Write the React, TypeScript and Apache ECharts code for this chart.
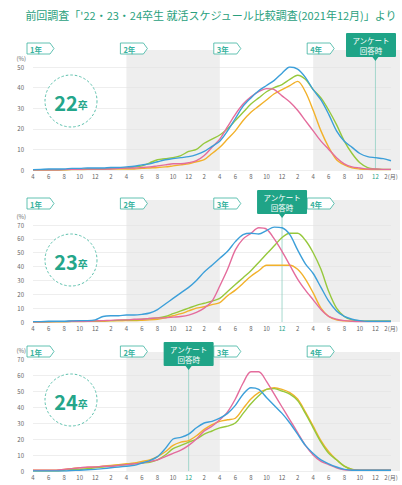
import { useEffect, useRef } from "react";
import * as echarts from "echarts";

// ---- tick labels (Apr of 1st year .. Feb after 4th year, monthly) ----
const monthTicks = [
  "4","5","6","7","8","9","10","11","12","1","2","3",
  "4","5","6","7","8","9","10","11","12","1","2","3",
  "4","5","6","7","8","9","10","11","12","1","2","3",
  "4","5","6","7","8","9","10","11","12","1","2",
];
const yearTags = ["1年", "2年", "3年", "4年"];
const yearStartIdx = [0, 12, 24, 36];
const shadedYears = [[12, 24], [36, 46]];
const cohorts = ["22", "23", "24"];
const yMaxes = [50, 70, 70];
const surveyIdx = [44, 32, 20];
const surveyText = "アンケート\n回答時";
const titleText = "前回調査「'22・23・24卒生 就活スケジュール比較調査(2021年12月)」より";

// ---- series values (%) ----
const blue22 = [0.2,0.3,0.5,0.5,0.5,0.8,0.8,1,1,1,1.2,1.2,1.5,1.8,2.5,3,4,5,5.5,6,6.5,7.5,9,11.5,14,19,25,31,35,38.5,41,43.5,47,50,49,45,39,34,27,19,14,11,8,6.5,6,5.5,4.5];
const pink22 = [0,0,0,0,0.2,0.3,0.3,0.5,0.5,0.5,0.5,0.8,1,1,1.2,1.5,2,2.5,3,3,3.5,4.5,7,11,15,21,27,32,35.5,38,39.5,39,36,33,29,24,19,14,10,6,3,1.5,1,0.5,0.5,0.3,0.3];
const green22 = [0,0,0,0,0.2,0.3,0.3,0.5,0.5,0.5,0.8,1,1,1.5,2,3.5,5,5.5,6,7,9,10,13,15,17,20,24,28,32,35,38,40,41.5,44,46,44,39,35,29,22,14,8,3.5,1.2,0.5,0.3,0.3];
const gold22 = [0,0,0,0,0,0.2,0.2,0.3,0.3,0.3,0.5,0.5,0.5,0.5,0.8,1,1.2,1.5,2,2.5,3,4,5,8,11,15,19,24,28,31,34,37,39,41,43,38,29,19,11,5,2.5,1,0.5,0.3,0.2,0.2,0.2];

const blue23 = [0.3,0.3,0.5,0.5,0.5,0.8,1,1,1.5,4,4.5,4.5,5,5,5.5,6.5,9,13,17,21,25,30,36,41,46,51,58,63,64,63.5,66,68.5,68,63,52,42,35,25,15,8,4,2,1,0.5,0.5,0.5,0.5];
const pink23 = [0,0,0.2,0.3,0.3,0.5,0.5,0.5,0.8,1,1.2,1.5,1.5,2,2,2.5,3,3,3.5,4,5,7,10,15,26,38,52,60,64,68,67,60,51,41,31,23,16,9,4,2,1,0.5,0.3,0.3,0.3,0.3,0.3];
const green23 = [0,0,0.2,0.3,0.3,0.5,0.5,0.5,0.8,1,1,1.2,1.5,1.5,2,2.5,3,4,6,8,10,12,13.5,15,17,22,27,32,37,43,49,55,61,64,64,59,50,38,22,10,4,1.5,0.8,0.5,0.5,0.5,0.5];
const gold23 = [0,0,0,0.2,0.2,0.3,0.3,0.5,0.5,0.5,0.8,0.8,1,1,1.2,1.5,2,3,4.5,6,8,10,11,12.5,14,19,23,28,33,37,41,41,41,41,38,31,21,10,4,1.5,0.8,0.5,0.5,0.5,0.5,0.5,0.5];

const blue24 = [0,0,0,0,0,0.3,0.5,0.8,1,1.5,2,2.5,3,3.5,5,6.5,9,14,20,21,23,27,30,31,33,36,41,48,52,51,46,41,36,30,23,16,11,7,4.5,2.5,1,0.5,0.5,0.5,0.5,0.5,0.5];
const pink24 = [0.5,0.5,0.5,0.5,1,1.5,2,2.5,2.5,3,3,3.5,4,4.5,5,6,7,9,11,13,16,20,25,28,32,37,45,55,62,62,56,48,40,32,24,16,10,6,4,2,0.8,0.5,0.5,0.5,0.5,0.5,0.5];
const green24 = [0,0,0,0,0.5,1,1,1.5,2,2.5,3,3.5,4,4.5,5,5.5,7,10,14,16,18,20,23,25,27,28,30,36,42,47,51,51.5,50,48,44,36,27,18,11,7,3,1,0.5,0.5,0.5,0.5,0.5];
const gold24 = [0.5,0.5,0.5,0.5,1,1.5,2,2,2.5,3,3.5,4,4.5,5,6,7,9,12,16,18,19,22,26,29,31,32,33,39,45,49,51,52,51,49,45,37,28,19,12,7,3,1,0.5,0.5,0.5,0.5,0.5];

const panelSeries = [
  [gold22, green22, pink22, blue22],
  [gold23, green23, pink23, blue23],
  [gold24, green24, pink24, blue24],
];
const seriesColors = ["#f2b12a", "#96c83c", "#e46c9c", "#3c9fd9"];

// ---- layout ----
const LAYOUT = [
  { top: 67, height: 103, tagTop: 43, boxTop: 33, shadeTop: 50, circleY: 101 },
  { top: 225, height: 97, tagTop: 198, boxTop: 190, shadeTop: 200, circleY: 260 },
  { top: 359, height: 112, tagTop: 346, boxTop: 342, shadeTop: 352, circleY: 400 },
];
const TEAL = "#1fa487";
const TAG = "#3ab3a0";

export default function App() {
  const ref = useRef<HTMLDivElement>(null);
  useEffect(() => {
    const chart = echarts.init(ref.current!, null, { renderer: "svg" });
    const cats = monthTicks.map((_, i) => String(i));
    const font = "'Noto Sans CJK JP', 'Noto Sans', sans-serif";
    const option: any = {
      animation: false,
      backgroundColor: "#ffffff",
      textStyle: { fontFamily: font },
      grid: LAYOUT.map((l) => ({ left: 33, right: 11, top: l.top, height: l.height })),
      xAxis: LAYOUT.map((_, k) => ({
        type: "category",
        gridIndex: k,
        data: cats,
        boundaryGap: false,
        axisLine: { show: false },
        axisTick: { show: false },
        splitLine: { show: false },
        axisLabel: {
          interval: 1,
          fontSize: 6,
          lineHeight: 7,
          margin: 3,
          fontFamily: font,
          color: (v: any) => (Number(v) === surveyIdx[k] ? TEAL : "#666"),
          formatter: (v: any) => {
            const i = Number(v);
            return monthTicks[i] + (i === monthTicks.length - 1 ? "(月)" : "");
          },
        },
      })),
      yAxis: LAYOUT.map((_, k) => ({
        type: "value",
        gridIndex: k,
        min: 0,
        max: yMaxes[k],
        interval: 10,
        name: "(%)",
        nameGap: 6,
        nameTextStyle: { fontSize: 6, color: "#666", align: "right", padding: [0, 7, 0, 0] },
        axisLine: { show: false },
        axisTick: { show: false },
        axisLabel: { fontSize: 6, color: "#666", margin: 9 },
        splitLine: { lineStyle: { color: "#e2e2e2", width: 0.6 } },
      })),
      series: panelSeries.flatMap((list, k) =>
        list.map((data, j) => ({
          type: "line",
          xAxisIndex: k,
          yAxisIndex: k,
          data,
          smooth: 0.3,
          symbol: "none",
          lineStyle: { color: seriesColors[j], width: 1.4 },
          z: 3 + j,
        }))
      ),
    };
    chart.setOption(option);

    const els: any[] = [];
    els.push({
      type: "text",
      z: 20,
      style: {
        text: titleText,
        x: 211,
        y: 15,
        align: "center",
        verticalAlign: "middle",
        fill: "#2a9f7d",
        fontSize: 11,
        fontFamily: font,
      },
    });
    LAYOUT.forEach((l, k) => {
      const px = (i: number, v: number) =>
        chart.convertToPixel({ xAxisIndex: k, yAxisIndex: k }, [i, v]) as number[];
      const yBase = px(0, 0)[1];
      // shaded years
      shadedYears.forEach(([a, b]) => {
        const xa = px(a, 0)[0];
        const xb = b === monthTicks.length - 1 ? 400 : px(b, 0)[0];
        els.push({
          type: "rect",
          z: -1,
          silent: true,
          shape: { x: xa, y: l.shadeTop, width: xb - xa, height: yBase - l.shadeTop },
          style: { fill: "#eeeeee" },
        });
      });
      // year tags
      yearStartIdx.forEach((idx, t) => {
        const x = px(idx, 0)[0] - 6;
        const y = l.tagTop;
        const w = 27, h = 11;
        els.push({
          type: "polygon",
          z: 10,
          shape: { points: [[x, y], [x + w - 4, y], [x + w, y + h / 2], [x + w - 4, y + h], [x, y + h]] },
          style: { fill: "#ffffff", stroke: TAG, lineWidth: 0.8 },
        });
        els.push({
          type: "text",
          z: 11,
          style: {
            text: yearTags[t],
            x: x + 3,
            y: y + h / 2 + 0.5,
            verticalAlign: "middle",
            fill: TAG,
            fontSize: 7.5,
            fontWeight: "bold",
            fontFamily: font,
          },
        });
      });
      // survey marker
      const lx = px(surveyIdx[k], 0)[0];
      const bw = 50, bh = 24;
      const bx = Math.min(lx - bw / 2, 402 - 6 - bw);
      const by = l.boxTop;
      els.push({
        type: "line",
        z: 1,
        shape: { x1: lx, y1: by + bh, x2: lx, y2: yBase },
        style: { stroke: "#8fcfc2", lineWidth: 0.8 },
      });
      els.push({
        type: "rect",
        z: 12,
        shape: { x: bx, y: by, width: bw, height: bh, r: 1 },
        style: { fill: TEAL },
      });
      els.push({
        type: "polygon",
        z: 12,
        shape: { points: [[lx - 3, by + bh], [lx + 3, by + bh], [lx, by + bh + 4]] },
        style: { fill: TEAL },
      });
      els.push({
        type: "text",
        z: 13,
        style: {
          text: surveyText,
          x: bx + bw / 2,
          y: by + bh / 2,
          align: "center",
          verticalAlign: "middle",
          fill: "#ffffff",
          fontSize: 7.5,
          lineHeight: 10,
          fontFamily: font,
        },
      });
      // cohort circle
      els.push({
        type: "circle",
        z: 12,
        shape: { cx: 71, cy: l.circleY, r: 26 },
        style: { fill: "#ffffff", stroke: "#5dc1ad", lineWidth: 1, lineDash: [2.5, 2] },
      });
      els.push({
        type: "text",
        z: 13,
        style: {
          text: "{a|" + cohorts[k] + "}{b|卒}",
          x: 71,
          y: l.circleY + 1,
          align: "center",
          verticalAlign: "middle",
          rich: {
            a: { fontSize: 20, fontWeight: "bold", fill: "#24a68a", fontFamily: font },
            b: { fontSize: 10, fontWeight: "bold", fill: "#24a68a", fontFamily: font, padding: [4, 0, 0, 0] },
          },
        },
      });
    });
    chart.setOption({ graphic: { elements: els } });
    return () => chart.dispose();
  }, []);
  return (
    <div
      ref={ref}
      style={{ position: "fixed", left: 0, top: 0, width: 402, height: 485, background: "#fff" }}
    />
  );
}
